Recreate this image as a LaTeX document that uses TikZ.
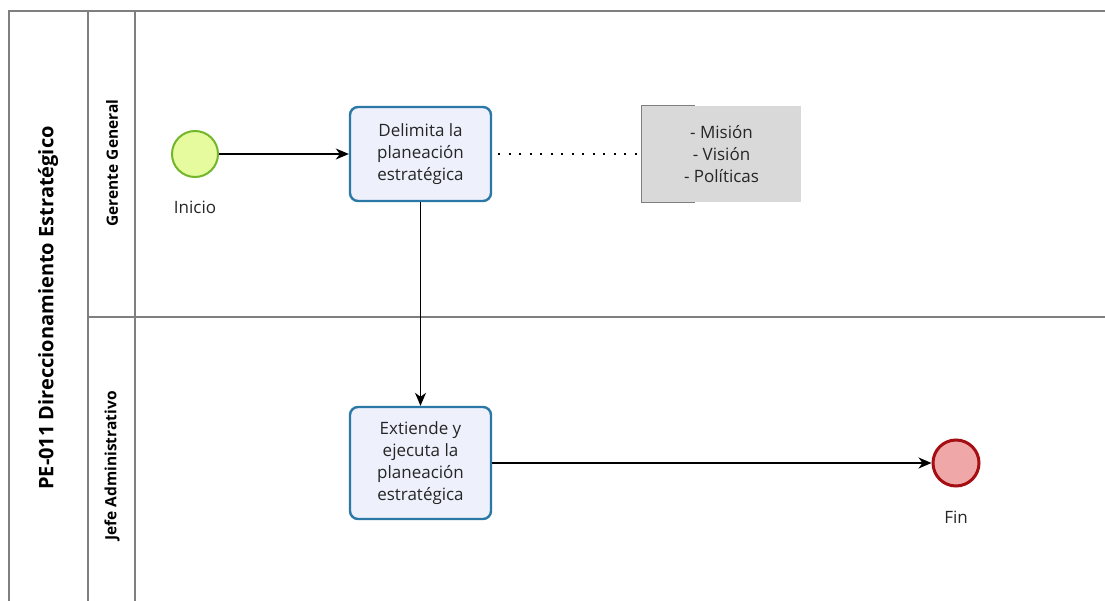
\documentclass[tikz,border=0pt]{standalone}
\usepackage{fontspec}
\setmainfont{Open Sans}
\usetikzlibrary{arrows.meta}
\definecolor{lanegray}{HTML}{7F7F7F}
\definecolor{taskfill}{HTML}{EEF0FC}
\definecolor{taskdraw}{HTML}{2B78A6}
\definecolor{startfill}{HTML}{E6FA9E}
\definecolor{startdraw}{HTML}{72B62A}
\definecolor{endfill}{HTML}{EFA7A7}
\definecolor{enddraw}{HTML}{A50F14}
\definecolor{notefill}{HTML}{D9D9D9}
\begin{document}
\begin{tikzpicture}[x=1pt,y=-1pt,
  lane/.style={draw=lanegray,line width=1.6pt},
  task/.style={draw=taskdraw,fill=taskfill,line width=2.4pt,rounded corners=8pt,
    minimum width=141pt,minimum height=94pt,align=center,font=\fontsize{17}{22}\selectfont,text=black!85},
  startev/.style={circle,draw=startdraw,fill=startfill,line width=2pt,minimum size=46pt,inner sep=0pt},
  endev/.style={circle,draw=enddraw,fill=endfill,line width=3pt,minimum size=46pt,inner sep=0pt},
  evlabel/.style={font=\fontsize{17}{20}\selectfont,text=black!85},
  flow/.style={-{Stealth[length=13pt,width=11pt,inset=4pt]},line width=1.2pt},
  assoc/.style={line width=2pt,dash pattern=on 2pt off 8.5pt},
  lanetitle/.style={rotate=90,font=\bfseries\fontsize{15.5}{18}\selectfont},
  pooltitle/.style={rotate=90,font=\fontsize{20}{24}\selectfont\bfseries}
]
\useasboundingbox (0,0) rectangle (1105,601);
\fill[white] (0,0) rectangle (1105,601);

% pool and lanes
\draw[lane] (9,601) -- (9,11) -- (1105,11);
\draw[lane] (88,11) -- (88,601);
\draw[lane] (135,11) -- (135,601);
\draw[lane] (88,317) -- (1105,317);

\node[pooltitle] (pool) at (48,308) {PE-011 Direccionamiento Estratégico};
\node[lanetitle] (lane1) at (112,163) {Gerente General};
\node[lanetitle] (lane2) at (112,466) {Jefe Administrativo};

% events and tasks
\node[startev] (inicio) at (195,154) {};
\node[evlabel] (inicioL) at (195,207) {Inicio};
\node[task] (t1) at (420.5,154) {Delimita la\\planeación\\estratégica};
\node[task,minimum height=112pt] (t2) at (420.5,463) {Extiende y\\ejecuta la\\planeación\\estratégica};
\node[endev] (fin) at (956,463) {};
\node[evlabel] (finL) at (956,517) {Fin};

% annotation
\node[fill=notefill,minimum width=159pt,minimum height=96pt,inner sep=0pt,
  align=center,font=\fontsize{17}{22}\selectfont,text=black!85] (note) at (721.5,154)
  {- Misión\\- Visión\\- Políticas};
\draw[lanegray,line width=1pt] ([xshift=53pt]note.north west) -- (note.north west)
  -- (note.south west) -- ([xshift=53pt]note.south west);

% connectors
\draw[flow] (inicio) -- (t1);
\draw[flow] (t1) -- (t2);
\draw[flow] (t2) -- (fin);
\draw[assoc] ([xshift=6pt]t1.east) -- ([xshift=-4pt]note.west);
\end{tikzpicture}
\end{document}
